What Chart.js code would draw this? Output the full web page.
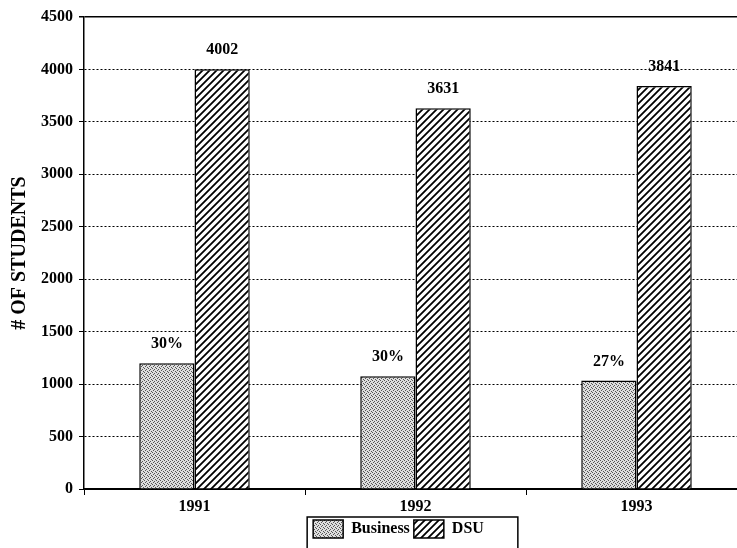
<!DOCTYPE html>
<html>
<head>
<meta charset="utf-8">
<script src="https://cdn.jsdelivr.net/npm/chart.js@4.4.1/dist/chart.umd.min.js"></script>
<style>
html,body{margin:0;padding:0;background:#fff;overflow:hidden;}
canvas{display:block;}
</style>
</head>
<body>
<canvas id="chart" width="748" height="548"></canvas>
<script>
// data
const years = ['1991', '1992', '1993'];
const businessStudents = [1200, 1075, 1035];
const dsuStudents = [4002, 3631, 3841];
const businessLabels = ['30%', '30%', '27%'];
const dsuLabels = ['4002', '3631', '3841'];
const yMax = 4500;
const yStep = 500;

const serif = "'Liberation Serif', 'Times New Roman', serif";
const canvas = document.getElementById('chart');
const ctx = canvas.getContext('2d');

function dotPattern(){
  const c = document.createElement('canvas'); c.width = 4; c.height = 4;
  const x = c.getContext('2d');
  x.fillStyle = '#dedede'; x.fillRect(0, 0, 4, 4);
  x.fillStyle = '#555';
  x.fillRect(0, 0, 1, 1); x.fillRect(2, 1, 1, 1);
  x.fillRect(1, 2, 1, 1); x.fillRect(3, 3, 1, 1);
  return ctx.createPattern(c, 'repeat');
}

function hatchPattern(){
  const s = 7;
  const c = document.createElement('canvas'); c.width = s; c.height = s;
  const x = c.getContext('2d');
  x.fillStyle = '#fff'; x.fillRect(0, 0, s, s);
  x.strokeStyle = '#000'; x.lineWidth = 1.8;
  x.beginPath();
  x.moveTo(0, s); x.lineTo(s, 0);
  x.moveTo(-1, 1); x.lineTo(1, -1);
  x.moveTo(s - 1, s + 1); x.lineTo(s + 1, s - 1);
  x.stroke();
  return ctx.createPattern(c, 'repeat');
}

// numbers above the bars
const barLabels = {
  id: 'barLabels',
  afterDatasetsDraw(chart){
    const texts = [businessLabels, dsuLabels];
    const c = chart.ctx;
    c.save();
    c.font = 'bold 16px ' + serif;
    c.fillStyle = '#000';
    c.textAlign = 'center';
    c.textBaseline = 'middle';
    chart.data.datasets.forEach((ds, i) => {
      chart.getDatasetMeta(i).data.forEach((bar, j) => {
        c.fillText(texts[i][j], bar.x, bar.y - 19);
      });
    });
    c.restore();
  }
};

// framed legend, nudged left like the original
const legendBox = {
  id: 'legendBox',
  afterLayout(chart){
    chart.legend.right -= 34;
  },
  afterDraw(chart){
    const boxes = chart.legend.legendHitBoxes;
    if(!boxes || !boxes.length) return;
    const first = boxes[0], last = boxes[boxes.length - 1];
    const c = chart.ctx;
    c.save();
    c.strokeStyle = '#000'; c.lineWidth = 1.5;
    c.strokeRect(first.left - 6, first.top - 3, last.left + last.width - first.left + 40, 60);
    c.restore();
  }
};

new Chart(canvas, {
  type: 'bar',
  data: {
    labels: years,
    datasets: [
      {label: 'Business', data: businessStudents, backgroundColor: dotPattern(), borderColor: '#000', borderWidth: 1.5},
      {label: 'DSU', data: dsuStudents, backgroundColor: hatchPattern(), borderColor: '#000', borderWidth: 1.5}
    ]
  },
  options: {
    responsive: false,
    animation: false,
    devicePixelRatio: 1,
    layout: {padding: {top: 17, right: 1, left: 0, bottom: 0}},
    datasets: {bar: {categoryPercentage: 0.5, barPercentage: 1}},
    scales: {
      x: {
        grid: {drawOnChartArea: false, drawTicks: true, tickLength: 6, color: '#000', offset: true},
        border: {color: '#000', width: 1.5},
        ticks: {color: '#000', font: {family: serif, size: 16, weight: 'bold'}, padding: 2},
        afterFit: s => { s.height = 27; }
      },
      y: {
        min: 0, max: yMax,
        ticks: {stepSize: yStep, color: '#000', font: {family: serif, size: 16, weight: 'bold'}, padding: 6, callback: v => String(v)},
        grid: {
          color: '#000', tickLength: 5, tickColor: '#000',
          lineWidth: c => (c.tick && c.tick.value === yMax) ? 1.5 : 1
        },
        border: {
          color: '#000', width: 1.5,
          dash: c => (c.tick && c.tick.value > 0 && c.tick.value < yMax) ? [2, 2] : []
        },
        title: {display: true, text: '# OF STUDENTS', color: '#000', font: {family: serif, size: 20, weight: 'bold'}, padding: {top: 8, bottom: 0}},
        afterFit: s => { s.width = 84; }
      }
    },
    plugins: {
      legend: {
        position: 'bottom',
        fullSize: false,
        labels: {color: '#000', font: {family: serif, size: 16, weight: 'bold'}, boxWidth: 30, boxHeight: 18, padding: 4}
      },
      tooltip: {enabled: false}
    }
  },
  plugins: [barLabels, legendBox]
});
</script>
</body>
</html>
